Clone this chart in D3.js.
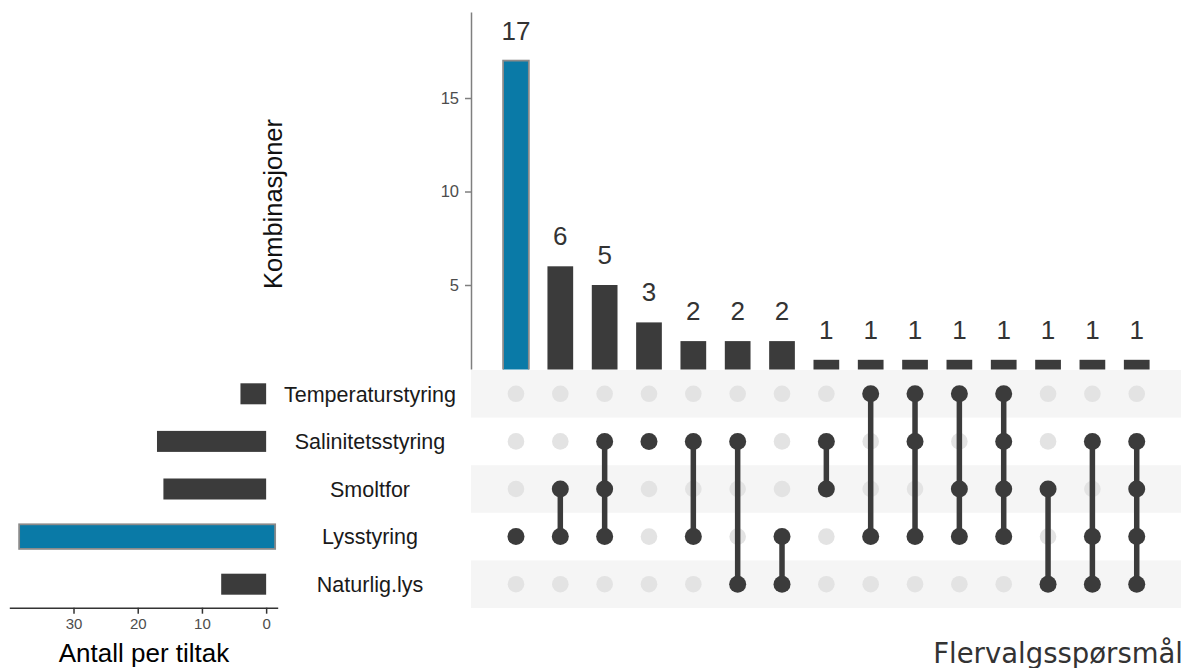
<!DOCTYPE html>
<html>
<head>
<meta charset="utf-8">
<script src="https://cdn.jsdelivr.net/npm/d3@7"></script>
<style>
  html, body { margin: 0; padding: 0; background: #ffffff; }
  svg { display: block; }
</style>
</head>
<body>
<svg id="chart" width="1189" height="668"></svg>
<script>
// ---- data ----
const sets = ["Temperaturstyring", "Salinitetsstyring", "Smoltfor", "Lysstyring", "Naturlig.lys"];
const setSizes = [4, 17, 16, 38, 7];
const intersectionCounts = [17, 6, 5, 3, 2, 2, 2, 1, 1, 1, 1, 1, 1, 1, 1];
const intersectionMembers = [
  ["Lysstyring"],
  ["Smoltfor", "Lysstyring"],
  ["Salinitetsstyring", "Smoltfor", "Lysstyring"],
  ["Salinitetsstyring"],
  ["Salinitetsstyring", "Lysstyring"],
  ["Salinitetsstyring", "Naturlig.lys"],
  ["Lysstyring", "Naturlig.lys"],
  ["Salinitetsstyring", "Smoltfor"],
  ["Temperaturstyring", "Lysstyring"],
  ["Temperaturstyring", "Salinitetsstyring", "Lysstyring"],
  ["Temperaturstyring", "Smoltfor", "Lysstyring"],
  ["Temperaturstyring", "Salinitetsstyring", "Smoltfor", "Lysstyring"],
  ["Smoltfor", "Naturlig.lys"],
  ["Salinitetsstyring", "Lysstyring", "Naturlig.lys"],
  ["Salinitetsstyring", "Smoltfor", "Lysstyring", "Naturlig.lys"]
];
const highlightIntersection = 0;
const highlightSet = "Lysstyring";
const topTicks = [0, 5, 10, 15];
const leftTicks = [0, 10, 20, 30];
const yTitle = "Kombinasjoner";
const xTitle = "Antall per tiltak";
const cornerTitle = "Flervalgsspørsmål";

(function () {
// ---- styles ----
const DARK = "#3b3b3b";
const BLUE = "#0a7aa7";
const FONT = "'Liberation Sans', Arial, sans-serif";

const svg = d3.select("#chart");
const cols = d3.range(intersectionCounts.length);

// clip for the upper panel (lower panel covers its bottom)
svg.append("defs").append("clipPath").attr("id", "topclip")
  .append("rect").attr("x", 0).attr("y", 0).attr("width", 1189).attr("height", 369.5);

// ---- scales ----
const x = d3.scaleBand().domain(cols).range([493.8, 1158.9]).paddingInner(0.42).paddingOuter(0.21);
const yTop = d3.scaleLinear().domain([0, 19.6]).range([378.5, 12]);
const rowY = d3.scaleBand().domain(sets).range([370, 608]);
const xLeft = d3.scaleLinear().domain([-1.8, 40]).range([277.7, 9.3]);

// ---- top bar chart ----
const gTop = svg.append("g").attr("clip-path", "url(#topclip)");
gTop.selectAll("rect.bar").data(cols).join("rect")
  .attr("class", "bar")
  .attr("x", i => x(i))
  .attr("width", x.bandwidth())
  .attr("y", i => yTop(intersectionCounts[i]))
  .attr("height", i => yTop(0) - yTop(intersectionCounts[i]))
  .attr("fill", i => i === highlightIntersection ? BLUE : DARK)
  .attr("stroke", i => i === highlightIntersection ? "#8a8a8a" : "none")
  .attr("stroke-width", 1.8);

gTop.selectAll("text.cnt").data(cols).join("text")
  .attr("class", "cnt")
  .attr("x", i => x(i) + x.bandwidth() / 2)
  .attr("y", i => yTop(intersectionCounts[i]) - 21)
  .attr("text-anchor", "middle")
  .attr("font-family", FONT)
  .attr("font-size", 26)
  .attr("fill", "#333333")
  .text(i => intersectionCounts[i]);

const yAxis = gTop.append("g")
  .attr("transform", "translate(471,0)")
  .call(d3.axisLeft(yTop).tickValues(topTicks).tickSize(6).tickPadding(6).tickSizeOuter(0));
yAxis.select(".domain").attr("stroke", "#7f7f7f").attr("stroke-width", 1.5);
yAxis.selectAll(".tick line").attr("stroke", "#7f7f7f").attr("stroke-width", 1.5);
yAxis.selectAll(".tick text").attr("font-family", FONT).attr("font-size", 16.5).attr("fill", "#4d4d4d");

svg.append("text")
  .attr("transform", "translate(281.5,204) rotate(-90)")
  .attr("text-anchor", "middle")
  .attr("font-family", FONT)
  .attr("font-size", 25.5)
  .attr("fill", "#111111")
  .text(yTitle);

// ---- matrix stripes ----
const matrix = svg.append("g");
matrix.selectAll("rect.stripe").data(sets.filter((s, i) => i % 2 === 0)).join("rect")
  .attr("class", "stripe")
  .attr("x", 471)
  .attr("width", 1181 - 471)
  .attr("y", s => rowY(s))
  .attr("height", rowY.bandwidth())
  .attr("fill", "#f5f5f5");

// background dots
const cells = [];
cols.forEach(i => sets.forEach(s => cells.push({ i, s, on: intersectionMembers[i].includes(s) })));
matrix.selectAll("circle.bg").data(cells.filter(c => !c.on)).join("circle")
  .attr("class", "bg")
  .attr("cx", c => x(c.i) + x.bandwidth() / 2)
  .attr("cy", c => rowY(c.s) + rowY.bandwidth() / 2)
  .attr("r", 8.3)
  .attr("fill", "#e3e3e3");

// connecting lines
matrix.selectAll("line.conn").data(cols.filter(i => intersectionMembers[i].length > 1)).join("line")
  .attr("class", "conn")
  .attr("x1", i => x(i) + x.bandwidth() / 2)
  .attr("x2", i => x(i) + x.bandwidth() / 2)
  .attr("y1", i => d3.min(intersectionMembers[i], s => rowY(s) + rowY.bandwidth() / 2))
  .attr("y2", i => d3.max(intersectionMembers[i], s => rowY(s) + rowY.bandwidth() / 2))
  .attr("stroke", DARK)
  .attr("stroke-width", 5.5);

matrix.selectAll("circle.on").data(cells.filter(c => c.on)).join("circle")
  .attr("class", "on")
  .attr("cx", c => x(c.i) + x.bandwidth() / 2)
  .attr("cy", c => rowY(c.s) + rowY.bandwidth() / 2)
  .attr("r", 8.5)
  .attr("fill", DARK);

// ---- set size bars (left) ----
const left = svg.append("g");
const barH = 21;
left.selectAll("rect.sbar").data(sets).join("rect")
  .attr("class", "sbar")
  .attr("x", (s, i) => s === highlightSet ? xLeft(setSizes[i]) - 3 : xLeft(setSizes[i]))
  .attr("width", (s, i) => s === highlightSet ? xLeft(0) - xLeft(setSizes[i]) + 12 : xLeft(0) - xLeft(setSizes[i]))
  .attr("y", s => rowY(s) + rowY.bandwidth() / 2 - (s === highlightSet ? 12.3 : barH / 2))
  .attr("height", s => s === highlightSet ? 24.6 : barH)
  .attr("fill", s => s === highlightSet ? BLUE : DARK)
  .attr("stroke", s => s === highlightSet ? "#8a8a8a" : "none")
  .attr("stroke-width", 1.8);

const xAxis = left.append("g")
  .attr("transform", "translate(0,607.7)")
  .call(d3.axisBottom(xLeft).tickValues(leftTicks).tickSize(6).tickPadding(5).tickSizeOuter(0));
xAxis.select(".domain").attr("stroke", "#333333").attr("stroke-width", 1.5);
xAxis.selectAll(".tick line").attr("stroke", "#333333").attr("stroke-width", 1.5);
xAxis.selectAll(".tick text").attr("font-family", FONT).attr("font-size", 15).attr("fill", "#4d4d4d");

svg.append("text")
  .attr("x", 144).attr("y", 661.5)
  .attr("text-anchor", "middle")
  .attr("font-family", FONT)
  .attr("font-size", 26)
  .attr("fill", "#000000")
  .text(xTitle);

// set labels
svg.selectAll("text.setlab").data(sets).join("text")
  .attr("class", "setlab")
  .attr("x", 370)
  .attr("y", s => rowY(s) + rowY.bandwidth() / 2)
  .attr("dy", "0.36em")
  .attr("text-anchor", "middle")
  .attr("font-family", FONT)
  .attr("font-size", 21.5)
  .attr("fill", "#1a1a1a")
  .text(s => s);

// corner title
svg.append("text")
  .attr("x", 1183).attr("y", 663)
  .attr("text-anchor", "end")
  .attr("font-family", "'DejaVu Sans', Verdana, sans-serif")
  .attr("font-size", 27.5)
  .attr("fill", "#333333")
  .text(cornerTitle);
})();
</script>
</body>
</html>
